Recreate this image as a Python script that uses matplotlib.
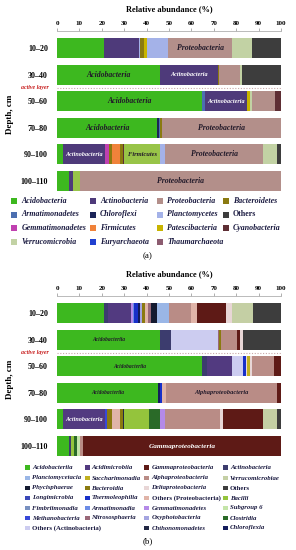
# Python 3
import matplotlib
matplotlib.use('Agg')
import matplotlib.pyplot as plt
from matplotlib.patches import Rectangle
from matplotlib.colors import to_rgb

W, H = 296, 550
plt.rcParams['font.family'] = ['Liberation Serif', 'DejaVu Serif']

depths = ['10–20', '30–40', '50–60', '70–80', '90–100', '100–110']

# ---- (a) phylum level ----
phyla = ['Acidobacteria', 'Actinobacteria', 'Proteobacteria', 'Bacteroidetes',
         'Armatimonadetes', 'Chloroflexi', 'Planctomycetes', 'Others',
         'Gemmatimonadetes', 'Firmicutes', 'Patescibacteria', 'Cyanobacteria',
         'Verrucomicrobia', 'Euryarchaeota', 'Thaumarchaeota']

phylum_bars = [
    [('Acidobacteria', 20.8), ('Actinobacteria', 15.6), ('Planctomycetes', 0.7),
     ('Bacteroidetes', 1.8), ('Patescibacteria', 1.2), ('Planctomycetes', 9.6),
     ('Proteobacteria', 28.3), ('Verrucomicrobia', 9.0), ('Others', 13.0)],
    [('Acidobacteria', 46.0), ('Actinobacteria', 26.0), ('Bacteroidetes', 0.5),
     ('Proteobacteria', 9.2), ('Verrucomicrobia', 0.8), ('Others', 17.5)],
    [('Acidobacteria', 64.6), ('Armatimonadetes', 1.4), ('Actinobacteria', 18.7),
     ('Patescibacteria', 1.3), ('Verrucomicrobia', 1.0), ('Proteobacteria', 10.5),
     ('Cyanobacteria', 2.5)],
    [('Acidobacteria', 44.8), ('Chloroflexi', 0.7), ('Armatimonadetes', 0.7),
     ('Bacteroidetes', 0.5), ('Proteobacteria', 53.3)],
    [('Acidobacteria', 2.5), ('Actinobacteria', 18.9), ('Gemmatimonadetes', 1.9),
     ('Bacteroidetes', 1.1), ('Firmicutes', 3.7), ('Bacteroidetes', 1.2),
     ('Cyanobacteria', 0.6), ('Firmicutes (Bacilli)', 16.1), ('Planctomycetes', 2.3),
     ('Proteobacteria', 43.8), ('Verrucomicrobia', 5.9), ('Others', 2.0)],
    [('Acidobacteria', 5.2), ('Actinobacteria', 1.8), ('Firmicutes (Bacilli)', 3.2),
     ('Proteobacteria', 89.8)],
]

phylum_labels = {
    '10–20': [('Proteobacteria', 'Proteobacteria')],
    '30–40': [('Acidobacteria', 'Acidobacteria'), ('Actinobacteria', 'Actinobacteria')],
    '50–60': [('Acidobacteria', 'Acidobacteria'), ('Actinobacteria', 'Actinobacteria')],
    '70–80': [('Acidobacteria', 'Acidobacteria'), ('Proteobacteria', 'Proteobacteria')],
    '90–100': [('Actinobacteria', 'Actinobacteria'), ('Firmicutes (Bacilli)', 'Firmicutes'),
               ('Proteobacteria', 'Proteobacteria')],
    '100–110': [('Proteobacteria', 'Proteobacteria')],
}

# ---- (b) class level ----
classes = ['Acidobacteriia', 'Acidimicrobiia', 'Gammaproteobacteria', 'Actinobacteria',
           'Planctomycetacia', 'Saccharimonadia', 'Alphaproteobacteria', 'Verrucomicrobiae',
           'Phycisphaerae', 'Bacteroidia', 'Deltaproteobacteria', 'Others',
           'Longimicrobia', 'Thermoleophilia', 'Others (Proteobacteria)', 'Bacilli',
           'Fimbriimonadia', 'Armatimonadia', 'Gemmatimonadetes', 'Subgroup 6',
           'Methanobacteria', 'Nitrososphaeria', 'Oxyphotobacteria', 'Clostridia',
           'Others (Actinobacteria)', None, 'Chthonomonadetes', 'Chloroflexia']

class_bars = [
    [('Acidobacteriia', 20.8), ('Actinobacteria', 1.8), ('Acidimicrobiia', 10.6),
     ('Gemmatimonadetes', 0.7), ('Armatimonadia', 0.6), ('Thermoleophilia', 1.5),
     ('Chloroflexia', 0.9), ('Oxyphotobacteria', 1.1), ('Bacteroidia', 1.5),
     ('Others (Proteobacteria)', 1.1), ('Nitrososphaeria', 1.2), ('Phycisphaerae', 2.7),
     ('Planctomycetacia', 5.5), ('Alphaproteobacteria', 9.7), ('Others (Proteobacteria)', 3.0),
     ('Gammaproteobacteria', 12.6), ('Deltaproteobacteria', 3.0), ('Verrucomicrobiae', 9.0),
     ('Others', 12.7)],
    [('Acidobacteriia', 46.2), ('Actinobacteria', 4.8), ('Others (Actinobacteria)', 20.7),
     ('Nitrososphaeria', 0.7), ('Bacteroidia', 0.8), ('Alphaproteobacteria', 7.2),
     ('Gammaproteobacteria', 1.5), ('Deltaproteobacteria', 1.1), ('Others', 17.0)],
    [('Acidobacteriia', 64.7), ('Actinobacteria', 2.3), ('Acidimicrobiia', 11.0),
     ('Others (Actinobacteria)', 5.0), ('Thermoleophilia', 1.5), ('Deltaproteobacteria', 0.5),
     ('Saccharimonadia', 1.3), ('Deltaproteobacteria', 0.7), ('Alphaproteobacteria', 10.0),
     ('Gammaproteobacteria', 3.0)],
    [('Acidobacteriia', 45.0), ('Chloroflexia', 1.2), ('Thermoleophilia', 0.8),
     ('Others (Proteobacteria)', 1.5), ('Alphaproteobacteria', 49.5),
     ('Gammaproteobacteria', 2.0)],
    [('Acidobacteriia', 2.7), ('Acidimicrobiia', 18.7), ('Methanobacteria', 1.0),
     ('Bacteroidia', 2.0), ('Others (Proteobacteria)', 3.7), ('Bacteroidia', 1.2),
     ('Chthonomonadetes', 0.6), ('Bacilli', 11.1), ('Clostridia', 5.0),
     ('Gemmatimonadetes', 2.3), ('Alphaproteobacteria', 24.5), ('Deltaproteobacteria', 1.5),
     ('Gammaproteobacteria', 17.8), ('Verrucomicrobiae', 5.9), ('Others', 2.0)],
    [('Acidobacteriia', 5.2), ('Actinobacteria', 1.0), ('Bacilli', 1.5),
     ('Clostridia', 1.2), ('Subgroup 6', 1.5), ('Alphaproteobacteria', 1.0),
     ('Gammaproteobacteria', 88.6)],
]

class_labels = {
    '30–40': [('Acidobacteriia', 'Acidobacteriia')],
    '50–60': [('Acidobacteriia', 'Acidobacteriia')],
    '70–80': [('Acidobacteriia', 'Acidobacteriia'), ('Alphaproteobacteria', 'Alphaproteobacteria')],
    '90–100': [('Acidimicrobiia', 'Actinobacteria')],
    '100–110': [('Gammaproteobacteria', 'Gammaproteobacteria')],
}

# ---- styling ----
phylum_colors = {
    'Acidobacteria': '#3db81f', 'Actinobacteria': '#4e3a7a', 'Proteobacteria': '#b38f8a',
    'Bacteroidetes': '#8a7a10', 'Armatimonadetes': '#4c6fb0', 'Chloroflexi': '#1c2458',
    'Planctomycetes': '#a4b2e8', 'Others': '#3d3d3d', 'Gemmatimonadetes': '#c040b0',
    'Firmicutes': '#f0823a', 'Patescibacteria': '#c8b400', 'Cyanobacteria': '#5e2e34',
    'Verrucomicrobia': '#c2d2a4', 'Euryarchaeota': '#2040d0', 'Thaumarchaeota': '#8c5c70',
    'Firmicutes (Bacilli)': '#98c448',
}
class_colors = {
    'Acidobacteriia': '#3db81f', 'Acidimicrobiia': '#523a80', 'Gammaproteobacteria': '#5e1a16',
    'Actinobacteria': '#3c3c6e', 'Planctomycetacia': '#9ab6e6', 'Saccharimonadia': '#c0b020',
    'Alphaproteobacteria': '#b98c86', 'Verrucomicrobiae': '#c4cfa4', 'Phycisphaerae': '#141a30',
    'Bacteroidia': '#8a7a10', 'Deltaproteobacteria': '#e8d6d6', 'Others': '#3d3d3d',
    'Longimicrobia': '#3a48b8', 'Thermoleophilia': '#1830c8', 'Others (Proteobacteria)': '#e0b4a8',
    'Bacilli': '#94c43c', 'Fimbriimonadia': '#7890c0', 'Armatimonadia': '#6c8ce6',
    'Gemmatimonadetes': '#b48ae8', 'Subgroup 6': '#c4e4a8', 'Methanobacteria': '#3848d8',
    'Nitrososphaeria': '#9a6878', 'Oxyphotobacteria': '#a4a4e0', 'Clostridia': '#2a6a28',
    'Others (Actinobacteria)': '#ccccf0', 'Chthonomonadetes': '#222844', 'Chloroflexia': '#141c5c',
}
label_size = {'Proteobacteria': 5.6, 'Acidobacteria': 5.6, 'Actinobacteria': 4.4,
              'Firmicutes': 4.7, 'Acidobacteriia': 4.0, 'Alphaproteobacteria': 4.6,
              'Gammaproteobacteria': 5.2}

BAR_H = 0.75
TEXT_DARK = '#221a2a'
LEG_TEXT = '#1a1a40'


def fx(x):
    return x / W


def fy(y):
    return 1 - y / H


def luminance(c):
    r, g, b = to_rgb(c)
    return 0.299 * r + 0.587 * g + 0.114 * b


def plot_panel(fig, top_px, bars, colors, labels, label_scale):
    ax = fig.add_axes([fx(57), fy(top_px + 163.3), fx(281) - fx(57), 163.3 / H])
    for i, segs in enumerate(bars):
        left = 0
        for name, v in segs:
            ax.barh(i, v, left=left, height=BAR_H, color=colors[name], lw=0)
            left += v
    for i, d in enumerate(depths):
        for cat, text in labels.get(d, []):
            left = 0
            for name, v in bars[i]:
                if name == cat:
                    break
                left += v
            col = 'white' if luminance(colors[cat]) < 0.3 else TEXT_DARK
            ax.text(left + v / 2, i, text, ha='center', va='center', color=col,
                    fontsize=label_size.get(text, 5) * label_scale,
                    style='italic', fontweight='bold')
    ax.set_xlim(0, 100)
    ax.set_ylim(5.5, -0.64)
    ax.axhline(1.5, color='#c8a8a8', lw=0.8, ls=(0, (1, 1.5)))
    ax.text(-0.1, 1.5, 'active layer', transform=ax.get_yaxis_transform(),
            ha='center', va='center', color='#c82020', fontsize=4.3,
            style='italic', fontweight='bold')
    ax.xaxis.tick_top()
    ax.set_xticks(range(0, 101, 10))
    ax.tick_params(axis='x', length=2.5, width=0.5, pad=1, labelsize=5, color='#909090')
    for lbl in ax.get_xticklabels():
        lbl.set_fontweight('bold')
    ax.set_yticks(range(len(depths)))
    ax.set_yticklabels(depths, fontsize=5.8, fontweight='bold')
    ax.tick_params(axis='y', length=0, pad=6.5)
    for s in ['left', 'right', 'bottom']:
        ax.spines[s].set_visible(False)
    ax.spines['top'].set_color('#b0b0b0')
    ax.spines['top'].set_linewidth(0.6)
    fig.text(fx(169), fy(top_px - 22), 'Relative abundance (%)', ha='center',
             va='center', fontsize=6, fontweight='bold')
    fig.text(fx(10), fy(top_px + 83), 'Depth, cm', rotation=90, ha='center',
             va='center', fontsize=6.5, fontweight='bold')
    return ax


def draw_legend(fig, names, colors, col_mark, col_text, row_y, msize, fsize):
    for k, name in enumerate(names):
        if name is None:
            continue
        r, c = divmod(k, 4)
        y = row_y[r]
        fig.add_artist(Rectangle((fx(col_mark[c]), fy(y + msize / 2)), msize / W, msize / H,
                                 transform=fig.transFigure, color=colors[name], lw=0))
        upright = name.startswith('Others')
        fig.text(fx(col_text[c]), fy(y), name, ha='left', va='center', fontsize=fsize,
                 color=LEG_TEXT, fontweight='bold',
                 style='normal' if upright else 'italic')


def main():
    fig = plt.figure(figsize=(W / 100, H / 100), dpi=100)

    plot_panel(fig, 31, phylum_bars, phylum_colors, phylum_labels, 1.0)
    draw_legend(fig, phyla, phylum_colors, [11, 90, 157, 223], [21.5, 100, 167, 233],
                [201, 214.5, 228, 241.5], 6, 5.7)
    fig.text(fx(148), fy(256), '(a)', ha='center', va='center', fontsize=6.5)

    plot_panel(fig, 296, class_bars, class_colors, class_labels, 1.0)
    draw_legend(fig, classes, class_colors, [25, 85, 144, 223], [32, 91.5, 151.5, 230],
                [467.5, 478, 488, 498, 508, 518, 528], 4.5, 4.9)
    fig.text(fx(148), fy(541), '(b)', ha='center', va='center', fontsize=6.5)

    fig.savefig('out.png', dpi=100)


if __name__ == '__main__':
    main()
